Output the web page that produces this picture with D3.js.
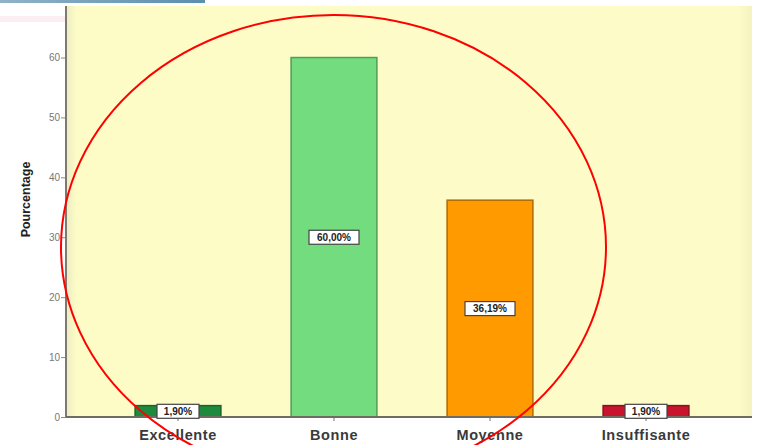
<!DOCTYPE html>
<html>
<head>
<meta charset="utf-8">
<script src="https://cdn.jsdelivr.net/npm/d3@7/dist/d3.min.js"></script>
<style>
  html, body { margin: 0; padding: 0; background: #fff; }
  svg { display: block; }
</style>
</head>
<body>
<svg id="chart" width="758" height="445"></svg>
<script>
// Quality ratings and their share of responses (%)
const categories = ["Excellente", "Bonne", "Moyenne", "Insuffisante"];
const percentages = [1.90, 60.00, 36.19, 1.90];
const valueLabels = ["1,90%", "60,00%", "36,19%", "1,90%"];
const yTicks = [0, 10, 20, 30, 40, 50, 60];
const barColors = ["#1e8a3e", "#72dc7f", "#ff9a00", "#c8142c"];
const barStrokes = ["#17652e", "#4f9e57", "#b06a00", "#8c0e1f"];

const svg = d3.select("#chart");
const plot = { left: 66, right: 752, top: 6, bottom: 417 };

const x = d3.scaleBand()
  .domain(categories)
  .range([100, 724])
  .paddingInner(0.45)
  .paddingOuter(0.225);

const y = d3.scaleLinear()
  .domain([0, 68.6])
  .range([plot.bottom, plot.top]);

// page banner strips
const defs = svg.append("defs");
const bannerGrad = defs.append("linearGradient").attr("id", "banner").attr("x1", 0).attr("x2", 1);
bannerGrad.append("stop").attr("offset", 0).attr("stop-color", "#8fb3c8");
bannerGrad.append("stop").attr("offset", 1).attr("stop-color", "#5b8fae");
svg.append("rect").attr("x", 0).attr("y", 0).attr("width", 205).attr("height", 3).attr("fill", "url(#banner)");
svg.append("rect").attr("x", 0).attr("y", 16).attr("width", 66).attr("height", 6).attr("fill", "#fbeef3");

// plot background
const bgGrad = defs.append("linearGradient").attr("id", "bg").attr("x1", 0).attr("x2", 1);
bgGrad.append("stop").attr("offset", 0).attr("stop-color", "#ecebc4");
bgGrad.append("stop").attr("offset", 0.015).attr("stop-color", "#fdfbc6");
bgGrad.append("stop").attr("offset", 0.98).attr("stop-color", "#fdfcc8");
bgGrad.append("stop").attr("offset", 1).attr("stop-color", "#f4f2c0");
svg.append("rect")
  .attr("x", plot.left).attr("y", plot.top)
  .attr("width", plot.right - plot.left).attr("height", plot.bottom - plot.top)
  .attr("fill", "url(#bg)");

// bars
svg.append("g").selectAll("rect")
  .data(categories)
  .join("rect")
  .attr("x", d => x(d))
  .attr("y", (d, i) => y(percentages[i]))
  .attr("width", x.bandwidth())
  .attr("height", (d, i) => y(0) - y(percentages[i]))
  .attr("fill", (d, i) => barColors[i])
  .attr("stroke", (d, i) => barStrokes[i])
  .attr("stroke-width", 1.5);

// y axis
const yAxis = svg.append("g")
  .attr("transform", `translate(${plot.left},0)`)
  .call(d3.axisLeft(y).tickValues(yTicks).tickSize(5).tickFormat(d3.format("d")));
yAxis.select(".domain").remove();
yAxis.selectAll(".tick line").attr("stroke", "#8a8a80");
yAxis.selectAll(".tick text")
  .attr("fill", "#777")
  .attr("font-family", "Liberation Sans, Arial, sans-serif")
  .attr("font-size", 10)
  .attr("dx", 2);
svg.append("line")
  .attr("x1", plot.left).attr("x2", plot.left)
  .attr("y1", plot.top).attr("y2", plot.bottom)
  .attr("stroke", "#7d7a6c").attr("stroke-width", 2);

// x axis
const xAxis = svg.append("g")
  .attr("transform", `translate(0,${plot.bottom})`)
  .call(d3.axisBottom(x).tickSize(4).tickPadding(9));
xAxis.select(".domain").remove();
xAxis.selectAll(".tick line").attr("stroke", "#777");
xAxis.selectAll(".tick text")
  .attr("fill", "#3a3a3a")
  .attr("font-family", "Liberation Sans, Arial, sans-serif")
  .attr("font-size", 14.5)
  .attr("font-weight", "bold")
  .attr("letter-spacing", 0.6);
svg.append("line")
  .attr("x1", plot.left).attr("x2", plot.right)
  .attr("y1", plot.bottom).attr("y2", plot.bottom)
  .attr("stroke", "#6f6d62").attr("stroke-width", 2);

// axis title
svg.append("text")
  .attr("transform", `translate(30,${(plot.top + plot.bottom) / 2 - 12}) rotate(-90)`)
  .attr("text-anchor", "middle")
  .attr("font-family", "Liberation Sans, Arial, sans-serif")
  .attr("font-size", 12.5)
  .attr("font-weight", "bold")
  .attr("fill", "#222")
  .text("Pourcentage");

// value labels in boxes at the middle of each bar
const labels = svg.append("g").selectAll("g")
  .data(categories)
  .join("g")
  .attr("transform", (d, i) => `translate(${x(d) + x.bandwidth() / 2},${(y(0) + y(percentages[i])) / 2})`);
labels.append("rect")
  .attr("x", (d, i) => valueLabels[i].length > 5 ? -25 : -21).attr("y", -7)
  .attr("width", (d, i) => valueLabels[i].length > 5 ? 50 : 42).attr("height", 14)
  .attr("fill", "#fff")
  .attr("stroke", "#444")
  .attr("stroke-width", 1.2);
labels.append("text")
  .attr("text-anchor", "middle")
  .attr("dy", "0.36em")
  .attr("font-family", "Liberation Sans, Arial, sans-serif")
  .attr("font-size", 10)
  .attr("font-weight", "bold")
  .attr("fill", "#222")
  .text((d, i) => valueLabels[i]);

// red highlight ellipse
svg.append("ellipse")
  .attr("cx", 333.5).attr("cy", 247)
  .attr("rx", 272.5).attr("ry", 232)
  .attr("fill", "none")
  .attr("stroke", "#ff0000")
  .attr("stroke-width", 2);
</script>
</body>
</html>
